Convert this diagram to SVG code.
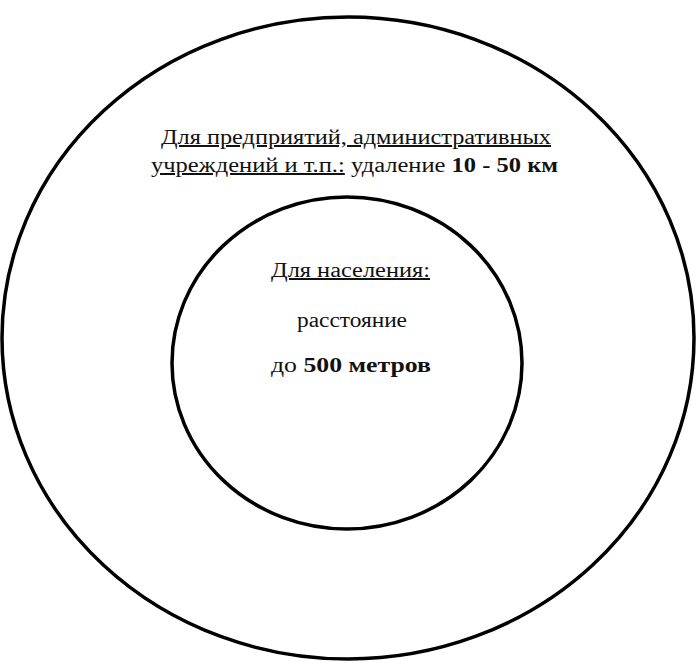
<svg xmlns="http://www.w3.org/2000/svg" width="697" height="664" viewBox="0 0 697 664">
<style>
.ring{fill:none;stroke:#000;stroke-width:3.5}
.t{font-family:"Liberation Serif","Times New Roman",serif;font-size:20px;fill:#111}
.u{text-decoration:underline}
.b{font-weight:bold}
</style>
<rect width="697" height="664" fill="#fff"/>
<g id="outer">
<ellipse class="ring" cx="348" cy="338" rx="346" ry="321"/>
<text class="t" x="161" y="144" textLength="390" lengthAdjust="spacingAndGlyphs"><tspan class="u">Для предприятий, административных</tspan></text>
<text class="t" x="151" y="172" textLength="407" lengthAdjust="spacingAndGlyphs"><tspan class="u">учреждений и т.п.:</tspan> удаление <tspan class="b">10 - 50 км</tspan></text>
</g>
<g id="inner">
<ellipse class="ring" cx="347" cy="363" rx="175" ry="166"/>
<text class="t" x="271" y="277" textLength="159" lengthAdjust="spacingAndGlyphs"><tspan class="u">Для населения:</tspan></text>
<text class="t" x="297" y="327" textLength="110" lengthAdjust="spacingAndGlyphs">расстояние</text>
<text class="t" x="271" y="372" textLength="160" lengthAdjust="spacingAndGlyphs">до <tspan class="b">500 метров</tspan></text>
</g>
</svg>
